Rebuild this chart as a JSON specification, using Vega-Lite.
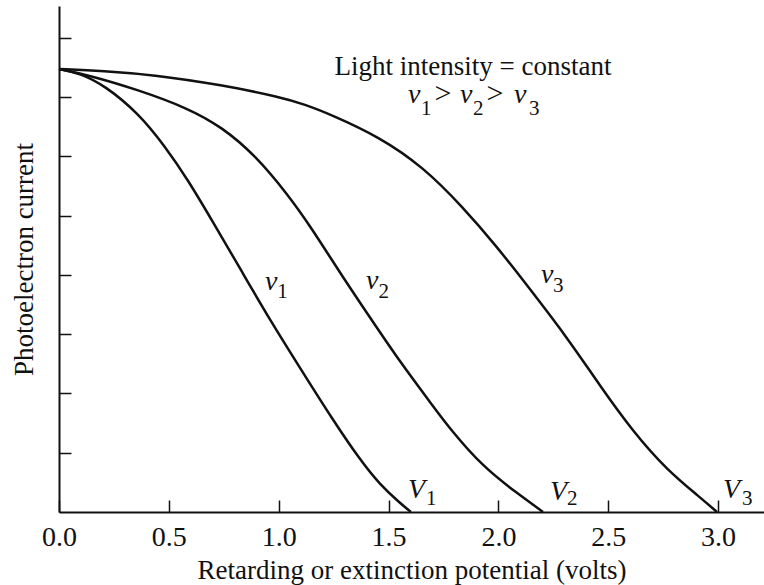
{
  "$schema": "https://vega.github.io/schema/vega-lite/v6.json",
  "width": 705,
  "height": 506,
  "autosize": {"type": "none"},
  "padding": {"left": 59, "top": 6, "right": 0, "bottom": 73},
  "background": "white",
  "config": {
    "font": "Liberation Serif",
    "view": {"stroke": null},
    "axis": {
      "grid": false,
      "domainColor": "#111",
      "domainWidth": 2,
      "tickColor": "#111",
      "tickWidth": 1.5,
      "labelColor": "#111",
      "titleColor": "#111",
      "labelFont": "Liberation Serif",
      "titleFont": "Liberation Serif",
      "titleFontWeight": "normal"
    }
  },
  "datasets": {
    "curves": [
      {"curve": "v1", "V": 0, "I": 7.47},
      {"curve": "v1", "V": 0.096, "I": 7.4},
      {"curve": "v1", "V": 0.209, "I": 7.19},
      {"curve": "v1", "V": 0.36, "I": 6.73},
      {"curve": "v1", "V": 0.482, "I": 6.17},
      {"curve": "v1", "V": 0.587, "I": 5.6},
      {"curve": "v1", "V": 0.696, "I": 4.92},
      {"curve": "v1", "V": 0.833, "I": 4.05},
      {"curve": "v1", "V": 0.96, "I": 3.24},
      {"curve": "v1", "V": 1.097, "I": 2.43},
      {"curve": "v1", "V": 1.247, "I": 1.55},
      {"curve": "v1", "V": 1.37, "I": 0.88},
      {"curve": "v1", "V": 1.461, "I": 0.46},
      {"curve": "v1", "V": 1.552, "I": 0.15},
      {"curve": "v1", "V": 1.602, "I": 0},
      {"curve": "v2", "V": 0, "I": 7.47},
      {"curve": "v2", "V": 0.132, "I": 7.37},
      {"curve": "v2", "V": 0.36, "I": 7.12},
      {"curve": "v2", "V": 0.587, "I": 6.81},
      {"curve": "v2", "V": 0.742, "I": 6.49},
      {"curve": "v2", "V": 0.892, "I": 6.02},
      {"curve": "v2", "V": 1.042, "I": 5.35},
      {"curve": "v2", "V": 1.142, "I": 4.83},
      {"curve": "v2", "V": 1.292, "I": 3.96},
      {"curve": "v2", "V": 1.401, "I": 3.36},
      {"curve": "v2", "V": 1.552, "I": 2.53},
      {"curve": "v2", "V": 1.702, "I": 1.79},
      {"curve": "v2", "V": 1.78, "I": 1.4},
      {"curve": "v2", "V": 1.93, "I": 0.76},
      {"curve": "v2", "V": 2.084, "I": 0.32},
      {"curve": "v2", "V": 2.203, "I": 0},
      {"curve": "v3", "V": 0, "I": 7.47},
      {"curve": "v3", "V": 0.2, "I": 7.44},
      {"curve": "v3", "V": 0.437, "I": 7.37},
      {"curve": "v3", "V": 0.742, "I": 7.2},
      {"curve": "v3", "V": 1.006, "I": 7.0},
      {"curve": "v3", "V": 1.12, "I": 6.87},
      {"curve": "v3", "V": 1.233, "I": 6.71},
      {"curve": "v3", "V": 1.461, "I": 6.32},
      {"curve": "v3", "V": 1.657, "I": 5.82},
      {"curve": "v3", "V": 1.839, "I": 5.14},
      {"curve": "v3", "V": 1.994, "I": 4.47},
      {"curve": "v3", "V": 2.112, "I": 3.91},
      {"curve": "v3", "V": 2.312, "I": 2.95},
      {"curve": "v3", "V": 2.462, "I": 2.13},
      {"curve": "v3", "V": 2.612, "I": 1.36},
      {"curve": "v3", "V": 2.767, "I": 0.71},
      {"curve": "v3", "V": 2.917, "I": 0.25},
      {"curve": "v3", "V": 2.995, "I": 0}
    ],
    "plain": [
      {"t": "Light intensity = constant", "x": 1.884, "y": 7.37, "a": "center", "s": 27},
      {"t": ">", "x": 1.748, "y": 6.9, "a": "left", "s": 30},
      {"t": ">", "x": 1.984, "y": 6.9, "a": "left", "s": 30}
    ],
    "ital": [
      {"t": "ν", "x": 1.589, "y": 6.9},
      {"t": "ν", "x": 1.825, "y": 6.9},
      {"t": "ν", "x": 2.071, "y": 6.9},
      {"t": "ν", "x": 0.938, "y": 3.74},
      {"t": "ν", "x": 1.397, "y": 3.76},
      {"t": "ν", "x": 2.194, "y": 3.86},
      {"t": "V", "x": 1.589, "y": 0.236},
      {"t": "V", "x": 2.235, "y": 0.2},
      {"t": "V", "x": 3.022, "y": 0.236}
    ],
    "subs": [
      {"t": "1", "x": 1.648, "y": 6.69},
      {"t": "2", "x": 1.884, "y": 6.69},
      {"t": "3", "x": 2.139, "y": 6.69},
      {"t": "1", "x": 0.993, "y": 3.61},
      {"t": "2", "x": 1.454, "y": 3.61},
      {"t": "3", "x": 2.249, "y": 3.71},
      {"t": "1", "x": 1.67, "y": 0.118},
      {"t": "2", "x": 2.312, "y": 0.118},
      {"t": "3", "x": 3.109, "y": 0.118}
    ]
  },
  "layer": [
    {
      "data": {"name": "curves"},
      "mark": {"type": "line", "interpolate": "basis", "color": "#111", "strokeWidth": 2.5},
      "encoding": {
        "x": {
          "field": "V", "type": "quantitative",
          "scale": {"domain": [0, 3.209], "nice": false, "zero": false},
          "axis": {
            "values": [0, 0.5, 1, 1.5, 2, 2.5, 3],
            "format": ".1f",
            "tickSize": -12,
            "labelFlush": false,
            "labelFontSize": 28,
            "labelPadding": 23,
            "title": "Retarding or extinction potential (volts)",
            "titleFontSize": 27,
            "titlePadding": 6
          }
        },
        "y": {
          "field": "I", "type": "quantitative",
          "scale": {"domain": [0, 8.533], "nice": false, "zero": false},
          "axis": {
            "values": [1, 2, 3, 4, 5, 6, 7, 8],
            "labels": false,
            "tickSize": -12,
            "title": "Photoelectron current",
            "titleFontSize": 27,
            "titlePadding": 20
          }
        },
        "detail": {"field": "curve"}
      }
    },
    {
      "data": {"name": "plain"},
      "mark": {"type": "text", "baseline": "alphabetic", "color": "#111"},
      "encoding": {
        "x": {"field": "x", "type": "quantitative"},
        "y": {"field": "y", "type": "quantitative"},
        "text": {"field": "t"},
        "align": {"field": "a"},
        "size": {"field": "s", "type": "quantitative", "scale": null}
      }
    },
    {
      "data": {"name": "ital"},
      "mark": {"type": "text", "fontSize": 28, "fontStyle": "italic", "align": "left", "baseline": "alphabetic", "color": "#111"},
      "encoding": {
        "x": {"field": "x", "type": "quantitative"},
        "y": {"field": "y", "type": "quantitative"},
        "text": {"field": "t"}
      }
    },
    {
      "data": {"name": "subs"},
      "mark": {"type": "text", "fontSize": 21, "align": "left", "baseline": "alphabetic", "color": "#111"},
      "encoding": {
        "x": {"field": "x", "type": "quantitative"},
        "y": {"field": "y", "type": "quantitative"},
        "text": {"field": "t"}
      }
    }
  ]
}
